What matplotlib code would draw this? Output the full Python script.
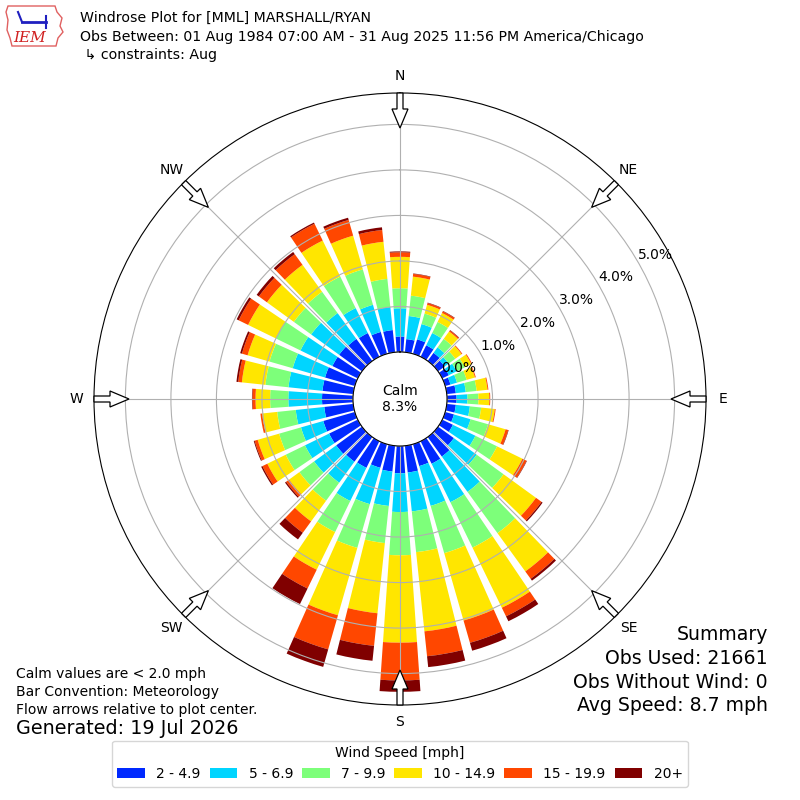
import numpy as np
import matplotlib
matplotlib.use("Agg")
import matplotlib.pyplot as plt
from matplotlib.patches import Patch, FancyArrow, Polygon

# direction bins (deg, meteorological: where the wind blows from)
directions = np.arange(0, 360, 10)

# percent of obs per direction, one list per speed bin
spd_2_5 = [0.34, 0.29, 0.33, 0.28, 0.22, 0.18, 0.16, 0.12, 0.20, 0.21, 0.20, 0.20,
           0.26, 0.43, 0.53, 0.55, 0.50, 0.59, 0.60, 0.57, 0.54, 0.65, 0.67, 0.70,
           0.70, 0.72, 0.64, 0.68, 0.68, 0.68, 0.62, 0.62, 0.60, 0.58, 0.50, 0.49]
spd_5_7 = [0.62, 0.51, 0.35, 0.30, 0.15, 0.11, 0.19, 0.15, 0.22, 0.24, 0.31, 0.38,
           0.55, 0.62, 0.96, 0.94, 0.91, 0.86, 0.85, 0.76, 0.83, 0.81, 0.57, 0.60,
           0.59, 0.51, 0.63, 0.74, 0.75, 0.74, 0.78, 0.76, 0.70, 0.61, 0.62, 0.51]
spd_7_10 = [0.44, 0.45, 0.24, 0.27, 0.23, 0.18, 0.20, 0.22, 0.24, 0.24, 0.25, 0.40,
            0.53, 0.73, 1.12, 1.11, 1.08, 0.90, 0.95, 0.82, 1.00, 0.76, 0.49, 0.40,
            0.47, 0.50, 0.41, 0.40, 0.51, 0.53, 0.60, 0.47, 0.58, 0.77, 0.81, 0.62]
spd_10_15 = [0.69, 0.42, 0.20, 0.22, 0.20, 0.17, 0.16, 0.19, 0.24, 0.24, 0.30, 0.40,
             0.62, 0.88, 1.04, 1.47, 1.54, 1.75, 1.92, 1.55, 1.54, 0.92, 0.56, 0.28,
             0.45, 0.49, 0.33, 0.32, 0.52, 0.50, 0.68, 0.73, 0.73, 0.88, 0.77, 0.82]
spd_15_20 = [0.10, 0.06, 0.04, 0.04, 0.03, 0.02, 0.02, 0.02, 0.02, 0.02, 0.02, 0.06,
             0.10, 0.15, 0.20, 0.21, 0.51, 0.55, 0.83, 0.72, 0.78, 0.46, 0.31, 0.08,
             0.12, 0.07, 0.04, 0.07, 0.08, 0.13, 0.23, 0.22, 0.29, 0.41, 0.36, 0.26]
spd_20 = [0.02, 0.01, 0.01, 0.01, 0.01, 0.00, 0.00, 0.00, 0.00, 0.00, 0.00, 0.01,
          0.01, 0.03, 0.05, 0.12, 0.18, 0.24, 0.25, 0.33, 0.40, 0.38, 0.18, 0.03,
          0.03, 0.02, 0.00, 0.01, 0.04, 0.04, 0.05, 0.06, 0.06, 0.03, 0.05, 0.06]

speed_bins = [spd_2_5, spd_5_7, spd_7_10, spd_10_15, spd_15_20, spd_20]
speed_labels = ["2 - 4.9", "5 - 6.9", "7 - 9.9", "10 - 14.9", "15 - 19.9", "20+"]
compass = ["N", "NE", "E", "SE", "S", "SW", "W", "NW"]
rticks = [0, 1, 2, 3, 4, 5]
calm_pct = 8.3

colors = plt.cm.jet(np.linspace(0, 1, 7))[1:]

fig = plt.figure(figsize=(8, 8), dpi=100)
ax = fig.add_axes([0.1175, 0.11875, 0.765, 0.765], projection="polar")
ax.set_theta_zero_location("N")
ax.set_theta_direction(-1)

theta = np.radians(directions)
width = np.radians(10) * 0.8
bottom = np.zeros(len(directions))
for vals, c in zip(speed_bins, colors):
    vals = np.array(vals)
    ax.bar(theta, vals, width=width, bottom=bottom, color=c, edgecolor="none")
    bottom = bottom + vals

ax.set_rorigin(-1.033)
ax.set_ylim(0, 5.69)
ax.set_yticks(rticks)
ax.set_yticklabels(["%.1f%%" % v for v in rticks])
ax.set_rlabel_position(60)
ax.set_xticks(np.radians(np.arange(0, 360, 45)))
ax.set_xticklabels(compass)
ax.tick_params(axis="both", labelsize=10)
ax.tick_params(axis="x", pad=2)
ax.grid(True, color="#b0b0b0", lw=0.8)

# calm in the middle
fig.text(0.5, 1 - 399 / 800, "Calm\n%.1f%%" % calm_pct, ha="center", va="center",
         fontsize=10)

# flow arrows at the rim
cx, cy = 0.5, 1 - 399 / 800
for ang in np.radians(np.arange(0, 360, 45)):
    r0, r1 = 306 / 800, 271 / 800
    x0, y0 = cx + r0 * np.sin(ang), cy + r0 * np.cos(ang)
    x1, y1 = cx + r1 * np.sin(ang), cy + r1 * np.cos(ang)
    arr = FancyArrow(x0, y0, x1 - x0, y1 - y0, width=6 / 800, head_width=16 / 800,
                     head_length=19 / 800, length_includes_head=True,
                     transform=fig.transFigure, fc="white", ec="black", lw=0.9,
                     zorder=10)
    fig.add_artist(arr)

# header
fig.text(80 / 800, 1 - 18 / 800, "Windrose Plot for [MML] MARSHALL/RYAN", va="center",
         fontsize=10.2)
fig.text(80 / 800, 1 - 37 / 800,
         "Obs Between: 01 Aug 1984 07:00 AM - 31 Aug 2025 11:56 PM America/Chicago",
         va="center", fontsize=10.2)
fig.text(80 / 800, 1 - 55 / 800, " \u21b3 constraints: Aug", va="center", fontsize=10.2)

# rough IEM logo
iowa = [(8, 6), (55, 6), (57, 12), (62, 18), (60, 26), (63, 32), (58, 38), (56, 46),
        (12, 46), (10, 38), (7, 30), (8, 20), (6, 12)]
fig.add_artist(Polygon([(x / 800, 1 - y / 800) for x, y in iowa], closed=True,
                       fill=False, ec="#e06060", lw=1, transform=fig.transFigure))
fig.add_artist(plt.Line2D([22 / 800, 46 / 800], [1 - 22 / 800, 1 - 22 / 800],
                          color="#2020c0", lw=2, transform=fig.transFigure))
fig.add_artist(plt.Line2D([22 / 800, 18 / 800], [1 - 22 / 800, 1 - 12 / 800],
                          color="#2020c0", lw=1.5, transform=fig.transFigure))
fig.add_artist(plt.Line2D([46 / 800, 46 / 800], [1 - 16 / 800, 1 - 28 / 800],
                          color="#2020c0", lw=1.5, transform=fig.transFigure))
fig.text(30 / 800, 1 - 38 / 800, "IEM", color="#d02020", fontsize=11, style="italic",
         family="DejaVu Serif", ha="center", va="center")

# notes bottom left
fig.text(16 / 800, 1 - 674 / 800, "Calm values are < 2.0 mph", va="center", fontsize=10)
fig.text(16 / 800, 1 - 692 / 800, "Bar Convention: Meteorology", va="center", fontsize=10)
fig.text(16 / 800, 1 - 710 / 800, "Flow arrows relative to plot center.", va="center",
         fontsize=10)
fig.text(16 / 800, 1 - 729 / 800, "Generated: 19 Jul 2026", va="center", fontsize=13.75)

# summary bottom right
summary = ["Summary", "Obs Used: 21661", "Obs Without Wind: 0", "Avg Speed: 8.7 mph"]
for i, s in enumerate(summary):
    fig.text(768 / 800, 1 - (635 + 23.5 * i) / 800, s, ha="right", va="center",
             fontsize=13.6)

handles = [Patch(facecolor=c) for c in colors]
fig.legend(handles, speed_labels, ncol=6, loc="lower center",
           bbox_to_anchor=(0.5, 0.008), title="Wind Speed [mph]", fontsize=10,
           title_fontsize=10, columnspacing=0.65)

fig.savefig("out.png", dpi=100)
